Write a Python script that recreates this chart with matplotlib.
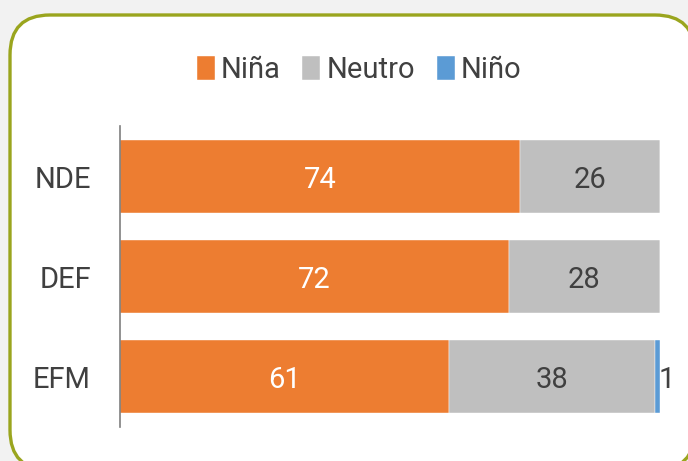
import numpy as np
import matplotlib.pyplot as plt
from matplotlib.patches import FancyBboxPatch

plt.rcParams['font.family'] = ['Roboto', 'DejaVu Sans']

periods = ['NDE', 'DEF', 'EFM']
nina = [74, 72, 61]
neutro = [26, 28, 38]
nino = [0, 0, 1]
series_names = ['Niña', 'Neutro', 'Niño']
colors = ['#ED7D31', '#BFBFBF', '#5B9BD5']
text_col = '#404040'

W, H = 688, 461
fig = plt.figure(figsize=(W / 100, H / 100), dpi=100, facecolor='#f2f2f2')

# rounded frame behind everything
bg = fig.add_axes([0, 0, 1, 1], zorder=0)
bg.set_xlim(0, W)
bg.set_ylim(H, 0)
bg.axis('off')
bg.add_patch(FancyBboxPatch((10, 15), 685, 455,
                            boxstyle='round,pad=0,rounding_size=40',
                            facecolor='white', edgecolor='#9aa51e', linewidth=2.4))

ax = fig.add_axes([120 / W, (H - 426.5) / H, 540 / W, 300 / H], zorder=1)
ax.patch.set_alpha(0)

y = np.arange(len(periods))
left = np.zeros(len(periods))
for vals, name, col in zip([nina, neutro, nino], series_names, colors):
    ax.barh(y, vals, left=left, height=0.73, color=col, label=name,
            edgecolor='white', linewidth=0.3)
    left = left + np.array(vals)

fs = 21
# data labels
for i in range(len(periods)):
    ax.text(nina[i] / 2, y[i], str(nina[i]), ha='center', va='center_baseline',
            color='white', fontsize=fs)
    ax.text(nina[i] + neutro[i] / 2, y[i], str(neutro[i]), ha='center',
            va='center_baseline', color=text_col, fontsize=fs)
    if nino[i] > 0:
        ax.text(nina[i] + neutro[i] + nino[i] - 0.3, y[i], str(nino[i]),
                ha='left', va='center_baseline', color=text_col, fontsize=fs)

ax.set_xlim(0, 100)
ax.set_ylim(len(periods) - 0.5, -0.5)
ax.set_yticks(y)
ax.set_yticklabels(periods, fontsize=fs, color=text_col)
ax.set_xticks([])
ax.tick_params(axis='y', length=0, pad=21)
for s in ['top', 'right', 'bottom']:
    ax.spines[s].set_visible(False)
ax.spines['left'].set_color('#7f7f7f')
ax.spines['left'].set_linewidth(1.2)

fig.legend(loc='center', bbox_to_anchor=(359 / W, 1 - 70 / H), ncol=3,
           frameon=False, fontsize=fs, labelcolor=text_col,
           handlelength=0.62, handleheight=0.85, handletextpad=0.2,
           columnspacing=0.75)

fig.savefig('out.png', dpi=100, facecolor=fig.get_facecolor())
